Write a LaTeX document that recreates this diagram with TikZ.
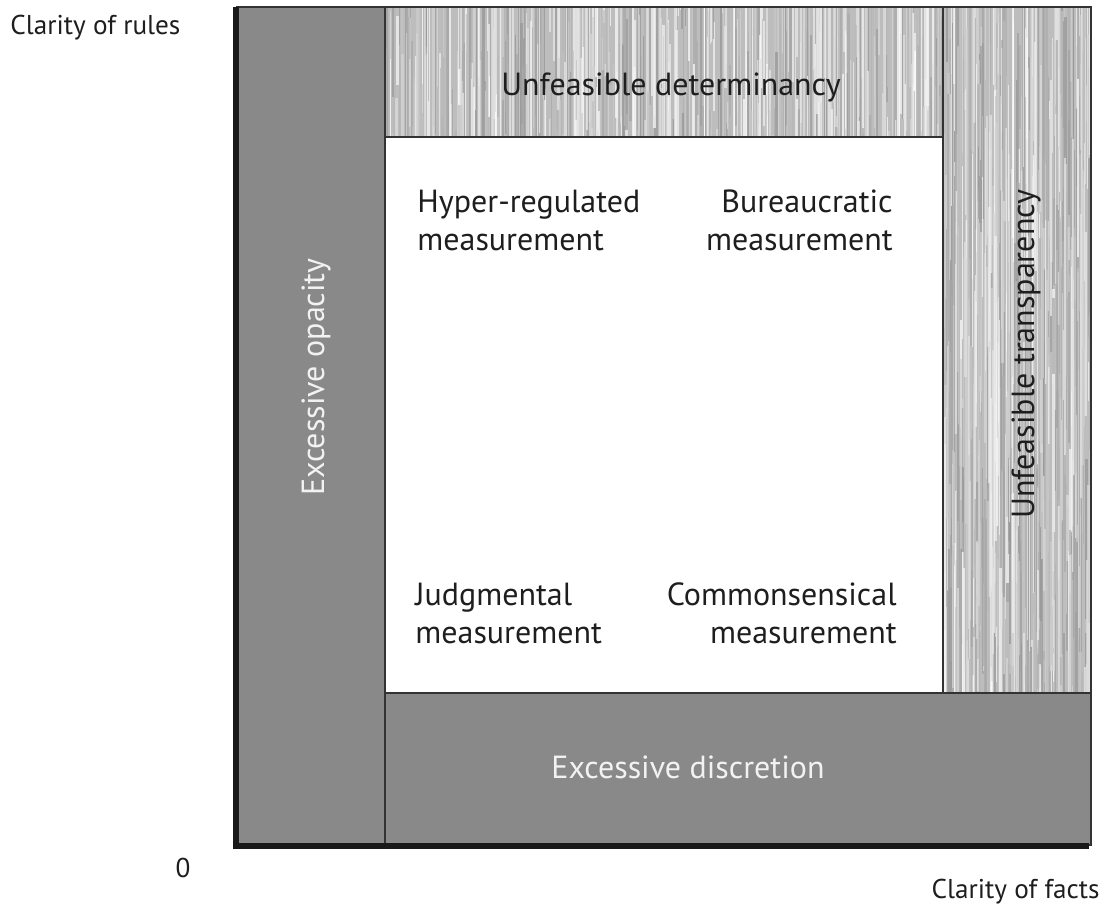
\documentclass[tikz,border=0pt]{standalone}
\usepackage{fontspec}
\setmainfont{PT Sans}
\usepackage{tikz}

\definecolor{bargray}{HTML}{898989}
\definecolor{inkgray}{HTML}{1E1E1E}
\definecolor{lightink}{HTML}{F2F2F2}
\definecolor{streak}{HTML}{BDBDBD}

\begin{document}
\begin{tikzpicture}[x=0.5pt,y=-0.5pt,
	word/.style={inner sep=0pt,text=inkgray,font=\fontsize{16pt}{19pt}\selectfont},
	axisword/.style={word,font=\fontsize{13.6pt}{16pt}\selectfont},
	barword/.style={word,text=lightink},
	edge/.style={draw=black!80,line width=0.6pt},
	bar/.style={edge,fill=bargray},
	axis/.style={line width=2.6pt,draw=black!90}]
				\useasboundingbox (0,0) rectangle (1106,904);

				\draw[bar] (237,7) rectangle (385,845);
				\draw[bar] (385,693) rectangle (1091,845);

				% streaked bars
				\pgfmathsetseed{42}
				\foreach \xa/\ya/\xb/\yb in {385/7/943/137, 943/7/1091/693} {
					\begin{scope}
						\clip (\xa,\ya) rectangle (\xb,\yb);
						\fill[streak] (\xa,\ya) rectangle (\xb,\yb);
						\foreach \i in {1,...,700} {
							\pgfmathsetmacro{\sx}{\xa+rnd*(\xb-\xa)}
							\pgfmathsetmacro{\sy}{\ya-120+rnd*(\yb-\ya+120)}
							\pgfmathsetmacro{\sl}{60+rnd*260}
							\pgfmathsetmacro{\tone}{58+42*rnd}
							\pgfmathsetmacro{\sw}{0.3+1.1*rnd}
							\draw[line width=\sw pt, draw=white!\tone!black, draw opacity=0.7] (\sx,\sy) -- (\sx,\sy+\sl);
						}
					\end{scope}
					\draw[edge] (\xa,\ya) rectangle (\xb,\yb);
				}

				\coordinate (top) at (236,7);
				\coordinate (corner) at (236,846);
				\coordinate (tip) at (1089,846);
				\draw[axis] (top) -- (corner) -- (tip);

				\node[barword,rotate=90,anchor=base] (opacity) at (324,377) {Excessive opacity};
				\node[barword,anchor=base] (discretion) at (688,778) {Excessive discretion};
				\node[word,anchor=base] (determinancy) at (671,96) {Unfeasible determinancy};
				\node[word,rotate=90,anchor=base] (transparency) at (1034,354) {Unfeasible transparency};

				\node[word,align=left,anchor=base west] (hyper) at (417,250) {Hyper-regulated\\measurement};
				\node[word,align=right,anchor=base east] (bureau) at (893,250) {Bureaucratic\\measurement};
				\node[word,align=left,anchor=base west] (judge) at (415,643) {Judgmental\\measurement};
				\node[word,align=right,anchor=base east] (common) at (897,643) {Commonsensical\\measurement};

				\node[axisword,anchor=base] (origin) at (183,877) {0};
				\node[axisword,anchor=base west] (rules) at (10,35) {Clarity of rules};
				\node[axisword,anchor=base east] (facts) at (1100,898) {Clarity of facts};

			\end{tikzpicture}
\end{document}
